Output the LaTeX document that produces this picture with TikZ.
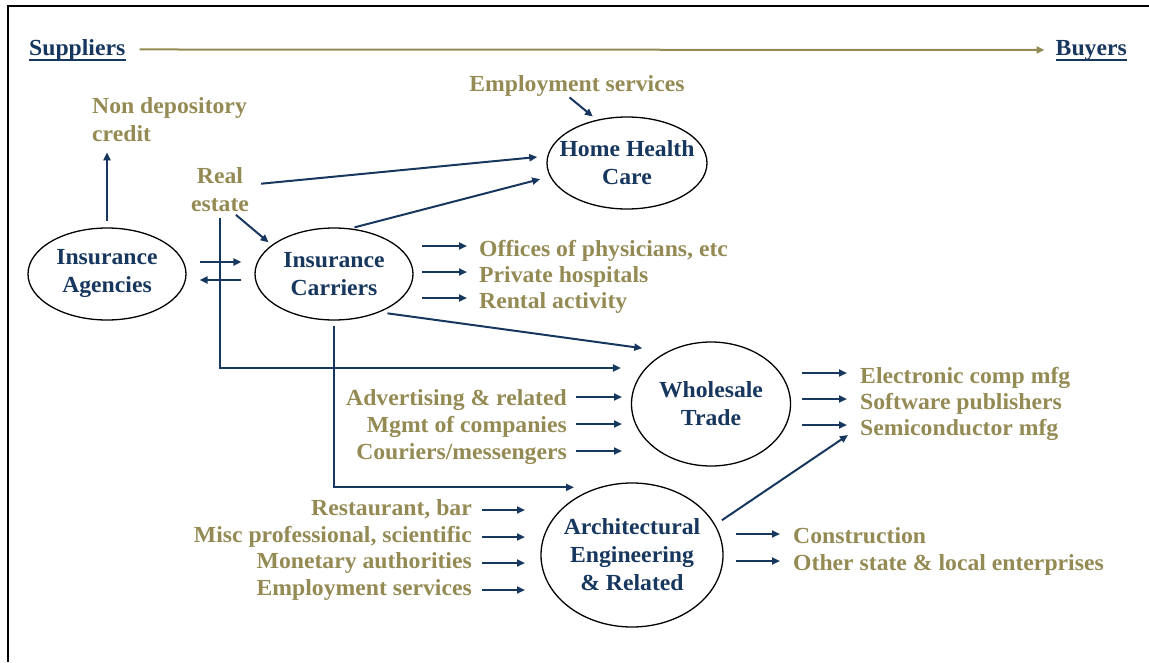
\documentclass[tikz,border=0pt]{standalone}
\usepackage{fontspec}
\setmainfont{Liberation Serif}[FakeStretch=1.03]
\usetikzlibrary{arrows.meta,shapes.geometric}
\definecolor{sectorblue}{HTML}{17375E}
\definecolor{itemolive}{HTML}{948A54}

\begin{document}
\begin{tikzpicture}[x=1pt, y=-1pt,
    every node/.style={font=\fontsize{23}{28}\selectfont\bfseries, inner sep=0pt},
    sector/.style={ellipse, draw=black, line width=1.3pt, text=sectorblue, align=center},
    item/.style={text=itemolive},
    link/.style={sectorblue, line width=2pt, -{Triangle[length=8pt,width=7pt]}}]
    \useasboundingbox (0,0) rectangle (1149,662);
    \draw [line width=2.5pt] (8,662) -- (8,6) -- (1149,6);

    % supply chain direction
    \node [text=sectorblue, anchor=base west] (sup) at (29,55) {Suppliers};
    \node [text=sectorblue, anchor=base east] (buy) at (1127,55) {Buyers};
    \draw [sectorblue, line width=2pt] (sup.south west) -- (sup.south east);
    \draw [sectorblue, line width=2pt] (buy.south west) -- (buy.south east);
    \draw [itemolive, line width=2pt, -{Triangle[length=8pt,width=7pt]},
        shorten <=14pt, shorten >=11pt] (sup.east) -- (buy.west);

    % sectors
    \node [sector, minimum width=158pt, minimum height=92pt] (agen) at (107,274) {Insurance\\Agencies};
    \node [sector, minimum width=158pt, minimum height=92pt] (carr) at (334,274) {Insurance\\Carriers};
    \node [sector, minimum width=160pt, minimum height=92pt, inner xsep=-12pt] (hhc) at (627,163) {Home Health\\Care};
    \node [sector, minimum width=159pt, minimum height=124pt] (whole) at (711,404) {Wholesale\\Trade};
    \node [sector, minimum width=182pt, minimum height=144pt, inner xsep=-6pt] (arch) at (632,555) {Architectural\\Engineering\\\& Related};

    % industries around the sectors
    \node [item, align=left, anchor=west] (nondep) at (92,120) {Non depository\\credit};
    \node [item, align=center] (realest) at (220,190) {Real\\estate};
    \node [item, anchor=base] (emplhhc) at (577,91) {Employment services};

    \node [item, anchor=base west] (phys) at (479,256) {Offices of physicians, etc};
    \node [item, anchor=base west] (hosp) at (479,282) {Private hospitals};
    \node [item, anchor=base west] (rent) at (479,308) {Rental activity};

    \node [item, anchor=base east] (adv) at (567,405) {Advertising \& related};
    \node [item, anchor=base east] (mgmt) at (567,432) {Mgmt of companies};
    \node [item, anchor=base east] (cour) at (567,459) {Couriers/messengers};

    \node [item, anchor=base west] (elec) at (860,383) {Electronic comp mfg};
    \node [item, anchor=base west] (soft) at (860,409) {Software publishers};
    \node [item, anchor=base west] (semi) at (860,435) {Semiconductor mfg};

    \node [item, anchor=base east] (rest) at (472,515) {Restaurant, bar};
    \node [item, anchor=base east] (misc) at (472,542) {Misc professional, scientific};
    \node [item, anchor=base east] (monet) at (472,568) {Monetary authorities};
    \node [item, anchor=base east] (emplarch) at (472,595) {Employment services};

    \node [item, anchor=base west] (constr) at (793,543) {Construction};
    \node [item, anchor=base west] (other) at (793,570) {Other state \& local enterprises};

    % links between sectors
    \draw [link, shorten <=6pt, shorten >=10pt] (agen.north) -- (agen.north |- nondep.south);
    \draw [link, shorten <=13pt, shorten >=13pt] ([yshift=12pt]agen.east) -- ([yshift=12pt]agen.east -| carr.west);
    \draw [link, shorten <=13pt, shorten >=13pt] ([yshift=-6pt]carr.west) -- ([yshift=-6pt]carr.west -| agen.east);
    \draw [link, shorten <=4pt, shorten >=4pt] (realest.-60) -- (carr.155);
    \draw [link, shorten <=12pt, shorten >=10pt] (realest.10) -- (hhc.175);
    \draw [link, shorten <=4pt, shorten >=10pt] (carr.70) -- (hhc.190);
    \draw [link, shorten <=2pt, shorten >=5pt] ([xshift=-9pt]emplhhc.south) -- (hhc.125);
    \draw [link, shorten <=8pt, shorten >=25pt] (carr.-40) -- (whole.130);
    \draw [link, shorten <=6pt, shorten >=10pt] (realest.south) |- ([yshift=36pt]whole.west);
    \draw [link, shorten <=5pt] (carr.south) |- ([shift={(-58,5)}]arch.north);
    \draw [link, shorten <=8pt] (arch.20) -- ([xshift=-12pt]semi.base west);

    % short arrows next to the industry lists
    \draw [link] ([shift={(-57,-10)}]phys.base west) -- ([shift={(-12,-10)}]phys.base west);
    \draw [link] ([shift={(-57,-10)}]hosp.base west) -- ([shift={(-12,-10)}]hosp.base west);
    \draw [link] ([shift={(-57,-10)}]rent.base west) -- ([shift={(-12,-10)}]rent.base west);
    \draw [link] ([shift={(9,-8)}]adv.base east) -- ([shift={(55,-8)}]adv.base east);
    \draw [link] ([shift={(9,-8)}]mgmt.base east) -- ([shift={(55,-8)}]mgmt.base east);
    \draw [link] ([shift={(9,-8)}]cour.base east) -- ([shift={(55,-8)}]cour.base east);
    \draw [link] ([shift={(-58,-10)}]elec.base west) -- ([shift={(-13,-10)}]elec.base west);
    \draw [link] ([shift={(-58,-10)}]soft.base west) -- ([shift={(-13,-10)}]soft.base west);
    \draw [link] ([shift={(-58,-10)}]semi.base west) -- ([shift={(-13,-10)}]semi.base west);
    \draw [link] ([shift={(10,-5)}]rest.base east) -- ([shift={(53,-5)}]rest.base east);
    \draw [link] ([shift={(10,-5)}]misc.base east) -- ([shift={(53,-5)}]misc.base east);
    \draw [link] ([shift={(10,-5)}]monet.base east) -- ([shift={(53,-5)}]monet.base east);
    \draw [link] ([shift={(10,-5)}]emplarch.base east) -- ([shift={(53,-5)}]emplarch.base east);
    \draw [link] ([shift={(-57,-9)}]constr.base west) -- ([shift={(-13,-9)}]constr.base west);
    \draw [link] ([shift={(-57,-9)}]other.base west) -- ([shift={(-13,-9)}]other.base west);
\end{tikzpicture}
\end{document}
